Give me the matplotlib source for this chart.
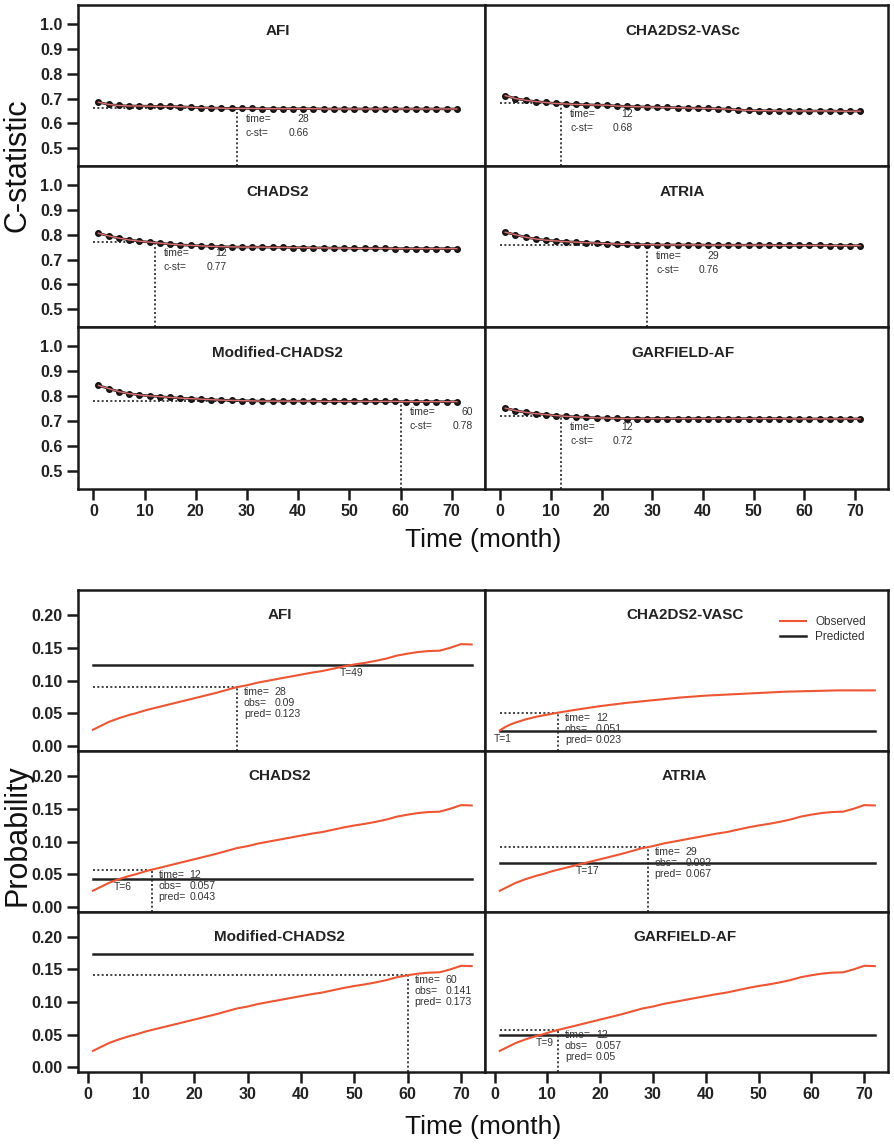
import matplotlib
matplotlib.use("Agg")
import matplotlib.pyplot as plt
from matplotlib.lines import Line2D

plt.rcParams['font.family'] = ['Liberation Sans', 'DejaVu Sans']

W, H = 895, 1144
fig = plt.figure(figsize=(W / 100, H / 100), dpi=100)

# ---------------- data: time-dependent C-statistic ----------------
top_titles = ["AFI", "CHA2DS2-VASc", "CHADS2", "ATRIA", "Modified-CHADS2", "GARFIELD-AF"]
cstat_months = list(range(1, 72, 2))

afi_cstat = [0.685, 0.676, 0.672, 0.670, 0.670, 0.669, 0.668, 0.668, 0.667, 0.665,
             0.663, 0.662, 0.661, 0.660, 0.660, 0.660, 0.659, 0.659, 0.659, 0.659,
             0.659, 0.659, 0.658, 0.658, 0.658, 0.658, 0.658, 0.658, 0.658, 0.658,
             0.658, 0.658, 0.658, 0.658, 0.658, 0.658]
cha2ds2_cstat = [0.712, 0.700, 0.693, 0.688, 0.684, 0.680, 0.678, 0.676, 0.675, 0.674,
                 0.673, 0.670, 0.668, 0.667, 0.666, 0.665, 0.664, 0.663, 0.662, 0.661,
                 0.660, 0.659, 0.657, 0.654, 0.652, 0.651, 0.651, 0.650, 0.650, 0.650,
                 0.650, 0.650, 0.650, 0.649, 0.649, 0.649]
chads2_cstat = [0.806, 0.795, 0.786, 0.779, 0.774, 0.770, 0.766, 0.762, 0.759, 0.757,
                0.755, 0.753, 0.752, 0.751, 0.750, 0.750, 0.750, 0.749, 0.749, 0.748,
                0.748, 0.747, 0.747, 0.746, 0.746, 0.745, 0.745, 0.745, 0.745, 0.744,
                0.744, 0.744, 0.744, 0.744, 0.744, 0.744]
atria_cstat = [0.810, 0.800, 0.790, 0.783, 0.778, 0.775, 0.772, 0.770, 0.768, 0.766,
               0.764, 0.762, 0.761, 0.760, 0.760, 0.759, 0.759, 0.759, 0.759, 0.759,
               0.758, 0.758, 0.758, 0.758, 0.758, 0.758, 0.758, 0.757, 0.757, 0.757,
               0.757, 0.757, 0.756, 0.756, 0.756, 0.756]
mod_chads2_cstat = [0.843, 0.830, 0.818, 0.810, 0.805, 0.801, 0.798, 0.795, 0.792, 0.790,
                    0.788, 0.786, 0.784, 0.783, 0.782, 0.781, 0.780, 0.780, 0.780, 0.780,
                    0.780, 0.780, 0.779, 0.779, 0.779, 0.779, 0.779, 0.779, 0.779, 0.779,
                    0.778, 0.778, 0.778, 0.778, 0.778, 0.778]
garfield_cstat = [0.752, 0.742, 0.735, 0.730, 0.726, 0.722, 0.719, 0.717, 0.715, 0.713,
                  0.712, 0.711, 0.710, 0.710, 0.710, 0.710, 0.710, 0.710, 0.710, 0.710,
                  0.710, 0.710, 0.710, 0.710, 0.710, 0.710, 0.710, 0.710, 0.709, 0.709,
                  0.709, 0.709, 0.709, 0.709, 0.709, 0.709]

cstat_cut_time = [28, 12, 12, 29, 60, 12]
cstat_cut_value = [0.66, 0.68, 0.77, 0.76, 0.78, 0.72]

# ---------------- data: observed vs predicted probability ----------------
bottom_titles = ["AFI", "CHA2DS2-VASC", "CHADS2", "ATRIA", "Modified-CHADS2", "GARFIELD-AF"]

obs_months = [1, 2, 3, 4, 5, 6, 7, 8, 9, 10, 11, 12,
              14, 16, 18, 20, 22, 24, 26, 28, 30, 32, 34, 36, 38, 40, 42, 44,
              46, 48, 50, 52, 54, 56, 58, 60, 62, 64, 66, 68, 70, 72]
obs_prob = [0.025, 0.029, 0.033, 0.037, 0.040, 0.043, 0.0455, 0.048, 0.050, 0.0525, 0.055, 0.057,
            0.061, 0.065, 0.069, 0.073, 0.077, 0.081, 0.0855, 0.090, 0.093, 0.097, 0.100, 0.103,
            0.106, 0.109, 0.112, 0.1145, 0.118, 0.1215, 0.1245, 0.127, 0.130, 0.1335, 0.138,
            0.141, 0.1435, 0.145, 0.1455, 0.150, 0.1555, 0.155]

cha2ds2_obs_months = [1, 2, 3, 4, 6, 8, 10, 12, 15, 20, 25, 30, 35, 40, 45, 50, 55, 60, 65, 70, 72]
cha2ds2_obs_prob = [0.024, 0.029, 0.033, 0.036, 0.041, 0.045, 0.048, 0.051, 0.055, 0.061, 0.066,
                    0.070, 0.074, 0.077, 0.079, 0.081, 0.083, 0.084, 0.085, 0.085, 0.085]

predicted = [0.123, 0.023, 0.043, 0.067, 0.173, 0.05]
prob_cut_time = [28, 12, 12, 29, 60, 12]
prob_cut_obs = [0.09, 0.051, 0.057, 0.092, 0.141, 0.057]
cross_time = [49, 1, 6, 17, None, 9]

# ---------------- layout (pixels) ----------------
EDGE = '#1a1a1a'
OBS_COLOR = '#ee5533'
TXT = '#333333'
LEFT, MID, RIGHT = 78, 485, 888
TOP_ROWS = [5, 166, 327, 489]
BOT_ROWS = [590, 751, 912, 1072]
TOP_XLIM = (-3.0, 76.5)
BOT_XLIM = (-1.8, 74.5)
TOP_YLIM = (0.428, 1.077)
BOT_YLIM = (-0.0074, 0.238)


def px_axes(x0, y0, x1, y1):
    return fig.add_axes([x0 / W, 1 - y1 / H, (x1 - x0) / W, (y1 - y0) / H])


def style(ax, row, col, xlim, ylim, yticks, yfmt):
    ax.set_xlim(*xlim)
    ax.set_ylim(*ylim)
    for s in ax.spines.values():
        s.set_linewidth(1.8)
        s.set_color(EDGE)
    xt = list(range(0, 71, 10))
    ax.set_xticks(xt)
    ax.set_yticks(yticks)
    ax.tick_params(direction='out', length=8, width=1.8, color=EDGE,
                   labelsize=11.5, pad=3, labelcolor='#222222')
    if row == 2:
        ax.set_xticklabels([str(v) for v in xt], fontweight='bold')
    else:
        ax.tick_params(axis='x', bottom=False, labelbottom=False)
    if col == 0:
        ax.set_yticklabels([yfmt.format(v) for v in yticks], fontweight='bold')
    else:
        ax.tick_params(axis='y', left=False, labelleft=False)


def panel_bounds(i, rows):
    row, col = divmod(i, 2)
    x0 = LEFT if col == 0 else MID
    x1 = MID if col == 0 else RIGHT
    return row, col, (x0, rows[row], x1, rows[row + 1])


def text_block(ax, t, y, labels, values, dy0, step, dx_lab, dx_val, ha_val, size):
    for k, (lab, val) in enumerate(zip(labels, values)):
        off = -dy0 - k * step
        ax.annotate(lab, xy=(t, y), xytext=(dx_lab, off), textcoords='offset pixels',
                    ha='left', va='center', fontsize=size, color=TXT)
        ax.annotate(val, xy=(t, y), xytext=(dx_val, off), textcoords='offset pixels',
                    ha=ha_val, va='center', fontsize=size, color=TXT)


DOT = (0, (1.1, 1.3))

# ---------------- C-statistic panels ----------------
top_series = [afi_cstat, cha2ds2_cstat, chads2_cstat, atria_cstat, mod_chads2_cstat, garfield_cstat]
for i, (title, vals) in enumerate(zip(top_titles, top_series)):
    row, col, box = panel_bounds(i, TOP_ROWS)
    ax = px_axes(*box)
    style(ax, row, col, TOP_XLIM, TOP_YLIM, [0.5, 0.6, 0.7, 0.8, 0.9, 1.0], '{:.1f}')
    t, c = cstat_cut_time[i], cstat_cut_value[i]
    ax.plot([0, t], [c, c], ls=DOT, color=TXT, lw=1.3, zorder=2)
    ax.plot([t, t], [TOP_YLIM[0], c], ls=DOT, color=TXT, lw=1.3, zorder=2)
    ax.plot(cstat_months, vals, color='#111111', lw=1.8, marker='o', ms=4,
            mfc='#2a1a1a', mec='#111111', zorder=3)
    ax.plot(cstat_months, vals, color='#e07070', lw=1.0, zorder=4)
    ax.text(36, TOP_YLIM[1] - 26 / 248, title, ha='center', va='center',
            fontsize=11, fontweight='bold', color='#222222')
    text_block(ax, t, c, ['time=', 'c-st='], [str(t), f'{c:.2f}'],
               dy0=11, step=14, dx_lab=9, dx_val=72, ha_val='right', size=7.5)

# ---------------- probability panels ----------------
for i, title in enumerate(bottom_titles):
    row, col, box = panel_bounds(i, BOT_ROWS)
    ax = px_axes(*box)
    style(ax, row, col, BOT_XLIM, BOT_YLIM, [0.0, 0.05, 0.10, 0.15, 0.20], '{:.2f}')
    if i == 1:
        xs, ys = cha2ds2_obs_months, cha2ds2_obs_prob
    else:
        xs, ys = obs_months, obs_prob
    t, o, p = prob_cut_time[i], prob_cut_obs[i], predicted[i]
    ax.plot([1, t], [o, o], ls=DOT, color=TXT, lw=1.3, zorder=2)
    ax.plot([t, t], [BOT_YLIM[0], o], ls=DOT, color=TXT, lw=1.3, zorder=2)
    ax.plot([1, 72], [p, p], color='#222222', lw=1.8, zorder=3, label='Predicted')
    ax.plot(xs, ys, color=OBS_COLOR, lw=1.5, zorder=4, label='Observed')
    ax.text(36, BOT_YLIM[1] - 25 / 655, title, ha='center', va='center',
            fontsize=11, fontweight='bold', color='#222222')
    text_block(ax, t, o, ['time=', 'obs=', 'pred='], [str(t), f'{o:g}', f'{p:g}'],
               dy0=5, step=11, dx_lab=7, dx_val=38, ha_val='left', size=7.6)
    T = cross_time[i]
    if T is not None:
        ax.annotate(f'T={T}', xy=(T, p), xytext=(3, -3), textcoords='offset pixels',
                    ha='center', va='top', fontsize=7.4, color=TXT)
    if i == 1:
        handles = [Line2D([], [], color=OBS_COLOR, lw=1.5),
                   Line2D([], [], color='#222222', lw=1.8)]
        ax.legend(handles, ['Observed', 'Predicted'], loc='upper right',
                  bbox_to_anchor=(1 - 16 / 403, 1 - 20 / 161), frameon=False,
                  fontsize=8.5, handlelength=2.2, handletextpad=0.8,
                  borderpad=0, labelspacing=0.25, labelcolor='#333333')

# ---------------- axis titles ----------------
fig.text((LEFT + RIGHT) / 2 / W, 1 - 540 / H, 'Time (month)', ha='center', va='center',
         fontsize=19, color='#111111')
fig.text((LEFT + RIGHT) / 2 / W, 1 - 1127 / H, 'Time (month)', ha='center', va='center',
         fontsize=19, color='#111111')
fig.text(18 / W, 1 - 165 / H, 'C-statistic', ha='center', va='center', rotation=90,
         fontsize=22, color='#111111')
fig.text(18 / W, 1 - 835 / H, 'Probability', ha='center', va='center', rotation=90,
         fontsize=22, color='#111111')

fig.savefig('out.png', dpi=100, facecolor='white')
